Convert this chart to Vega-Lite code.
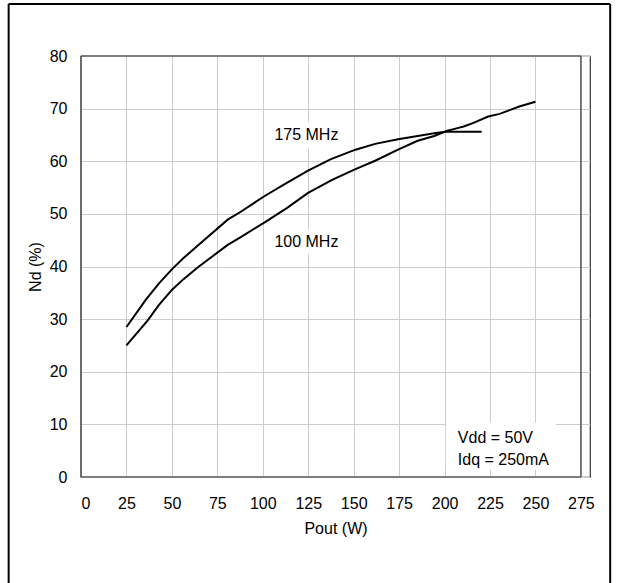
{
  "$schema": "https://vega.github.io/schema/vega-lite/v6.json",
  "width": 509,
  "height": 421,
  "autosize": {"type": "none"},
  "padding": {"left": 81, "top": 56, "right": 32, "bottom": 106},
  "background": "white",
  "config": {
    "font": "Liberation Sans",
    "view": {"stroke": "#333333", "strokeWidth": 1.2},
    "axis": {
      "grid": true,
      "gridColor": "#cccccc",
      "gridWidth": 1,
      "domain": false,
      "ticks": false,
      "labelFont": "Liberation Sans",
      "labelFontSize": 16,
      "labelColor": "#000000",
      "titleFont": "Liberation Sans",
      "titleFontSize": 16,
      "titleFontWeight": "normal",
      "titleColor": "#000000"
    }
  },
  "datasets": {
    "curves": [
      {"freq": "175 MHz", "pout": 25, "nd": 28.5},
      {"freq": "175 MHz", "pout": 35.7, "nd": 33.7},
      {"freq": "175 MHz", "pout": 42.9, "nd": 36.8},
      {"freq": "175 MHz", "pout": 50.1, "nd": 39.5},
      {"freq": "175 MHz", "pout": 56.4, "nd": 41.6},
      {"freq": "175 MHz", "pout": 62.7, "nd": 43.5},
      {"freq": "175 MHz", "pout": 80.7, "nd": 48.9},
      {"freq": "175 MHz", "pout": 87.9, "nd": 50.4},
      {"freq": "175 MHz", "pout": 100.6, "nd": 53.3},
      {"freq": "175 MHz", "pout": 113.2, "nd": 55.9},
      {"freq": "175 MHz", "pout": 124.9, "nd": 58.2},
      {"freq": "175 MHz", "pout": 137.5, "nd": 60.4},
      {"freq": "175 MHz", "pout": 151, "nd": 62.2},
      {"freq": "175 MHz", "pout": 161.8, "nd": 63.3},
      {"freq": "175 MHz", "pout": 174.4, "nd": 64.2},
      {"freq": "175 MHz", "pout": 185.2, "nd": 64.8},
      {"freq": "175 MHz", "pout": 194.3, "nd": 65.3},
      {"freq": "175 MHz", "pout": 200.6, "nd": 65.6},
      {"freq": "175 MHz", "pout": 220.4, "nd": 65.6},
      {"freq": "100 MHz", "pout": 25, "nd": 25.0},
      {"freq": "100 MHz", "pout": 36.6, "nd": 29.7},
      {"freq": "100 MHz", "pout": 42.9, "nd": 32.7},
      {"freq": "100 MHz", "pout": 50.1, "nd": 35.6},
      {"freq": "100 MHz", "pout": 56.4, "nd": 37.6},
      {"freq": "100 MHz", "pout": 64.5, "nd": 39.9},
      {"freq": "100 MHz", "pout": 80.7, "nd": 44.1},
      {"freq": "100 MHz", "pout": 87.9, "nd": 45.6},
      {"freq": "100 MHz", "pout": 100.6, "nd": 48.3},
      {"freq": "100 MHz", "pout": 113.2, "nd": 51.1},
      {"freq": "100 MHz", "pout": 124.9, "nd": 54.0},
      {"freq": "100 MHz", "pout": 138.4, "nd": 56.5},
      {"freq": "100 MHz", "pout": 151, "nd": 58.5},
      {"freq": "100 MHz", "pout": 161.8, "nd": 60.1},
      {"freq": "100 MHz", "pout": 174.4, "nd": 62.2},
      {"freq": "100 MHz", "pout": 185.2, "nd": 63.9},
      {"freq": "100 MHz", "pout": 194.3, "nd": 64.8},
      {"freq": "100 MHz", "pout": 201.5, "nd": 65.8},
      {"freq": "100 MHz", "pout": 205, "nd": 66.1},
      {"freq": "100 MHz", "pout": 210.5, "nd": 66.6},
      {"freq": "100 MHz", "pout": 215.9, "nd": 67.3},
      {"freq": "100 MHz", "pout": 224, "nd": 68.5},
      {"freq": "100 MHz", "pout": 230.3, "nd": 69.0},
      {"freq": "100 MHz", "pout": 241.1, "nd": 70.4},
      {"freq": "100 MHz", "pout": 250, "nd": 71.3}
    ],
    "labels": [
      {"text": "175 MHz", "pout": 124, "nd": 65.0, "x1": 106.0, "x2": 142.0, "y1": 62.4, "y2": 67.4},
      {"text": "100 MHz", "pout": 124, "nd": 44.7, "x1": 106.0, "x2": 142.0, "y1": 42.4, "y2": 47.0}
    ],
    "box": [
      {"x1": 200.7, "x2": 261.3, "y1": 1.4, "y2": 10.3}
    ],
    "note": [
      {"text": "Vdd = 50V", "pout": 207.3, "nd": 7.5},
      {"text": "Idq = 250mA", "pout": 207.3, "nd": 3.15}
    ],
    "one": [{}]
  },
  "layer": [
    {
      "data": {"name": "labels"},
      "mark": {"type": "rect", "fill": "white", "stroke": null},
      "encoding": {
        "x": {"field": "x1", "type": "quantitative", "scale": {"domain": [0, 275]},
              "axis": {"values": [0, 25, 50, 75, 100, 125, 150, 175, 200, 225, 250, 275], "title": "Pout (W)", "labelPadding": 18, "titlePadding": 9}},
        "x2": {"field": "x2"},
        "y": {"field": "y1", "type": "quantitative", "scale": {"domain": [0, 80]},
              "axis": {"values": [0, 10, 20, 30, 40, 50, 60, 70, 80], "title": "Nd (%)", "labelPadding": 14, "titlePadding": 6}},
        "y2": {"field": "y2"}
      }
    },
    {
      "data": {"name": "box"},
      "mark": {"type": "rect", "fill": "white", "stroke": null},
      "encoding": {
        "x": {"field": "x1", "type": "quantitative"},
        "x2": {"field": "x2"},
        "y": {"field": "y1", "type": "quantitative"},
        "y2": {"field": "y2"}
      }
    },
    {
      "data": {"name": "one"},
      "mark": {"type": "rule", "color": "#333333", "strokeWidth": 1.2},
      "encoding": {
        "x": {"datum": 0, "type": "quantitative"},
        "y": {"datum": 0, "type": "quantitative"},
        "y2": {"datum": 80}
      }
    },
    {
      "data": {"name": "one"},
      "mark": {"type": "rule", "color": "#333333", "strokeWidth": 1.2},
      "encoding": {
        "x": {"datum": 275, "type": "quantitative"},
        "y": {"datum": 0, "type": "quantitative"},
        "y2": {"datum": 80}
      }
    },
    {
      "data": {"name": "one"},
      "mark": {"type": "rule", "color": "#333333", "strokeWidth": 1.2},
      "encoding": {
        "x": {"datum": 0, "type": "quantitative"},
        "x2": {"datum": 275},
        "y": {"datum": 0, "type": "quantitative"}
      }
    },
    {
      "data": {"name": "one"},
      "mark": {"type": "rule", "color": "#333333", "strokeWidth": 1.2},
      "encoding": {
        "x": {"datum": 0, "type": "quantitative"},
        "x2": {"datum": 275},
        "y": {"datum": 80, "type": "quantitative"}
      }
    },
    {
      "data": {"name": "curves"},
      "mark": {"type": "line", "color": "black", "strokeWidth": 2},
      "encoding": {
        "x": {"field": "pout", "type": "quantitative"},
        "y": {"field": "nd", "type": "quantitative"},
        "detail": {"field": "freq"}
      }
    },
    {
      "data": {"name": "labels"},
      "mark": {"type": "text", "font": "Liberation Sans", "fontSize": 16, "color": "black", "align": "center", "baseline": "middle"},
      "encoding": {
        "x": {"field": "pout", "type": "quantitative"},
        "y": {"field": "nd", "type": "quantitative"},
        "text": {"field": "text"}
      }
    },
    {
      "data": {"name": "note"},
      "mark": {"type": "text", "font": "Liberation Sans", "fontSize": 16, "color": "black", "align": "left", "baseline": "middle"},
      "encoding": {
        "x": {"field": "pout", "type": "quantitative"},
        "y": {"field": "nd", "type": "quantitative"},
        "text": {"field": "text"}
      }
    },
    {
      "data": {"name": "one"},
      "mark": {"type": "rule", "color": "black", "strokeWidth": 2},
      "encoding": {
        "x": {"datum": -39.8, "type": "quantitative"},
        "y": {"datum": -25, "type": "quantitative"},
        "y2": {"datum": 89.9}
      }
    },
    {
      "data": {"name": "one"},
      "mark": {"type": "rule", "color": "black", "strokeWidth": 2},
      "encoding": {
        "x": {"datum": 291.1, "type": "quantitative"},
        "y": {"datum": -25, "type": "quantitative"},
        "y2": {"datum": 89.9}
      }
    },
    {
      "data": {"name": "one"},
      "mark": {"type": "rule", "color": "black", "strokeWidth": 2},
      "encoding": {
        "x": {"datum": -39.8, "type": "quantitative"},
        "x2": {"datum": 291.1},
        "y": {"datum": 89.9, "type": "quantitative"}
      }
    }
  ]
}
